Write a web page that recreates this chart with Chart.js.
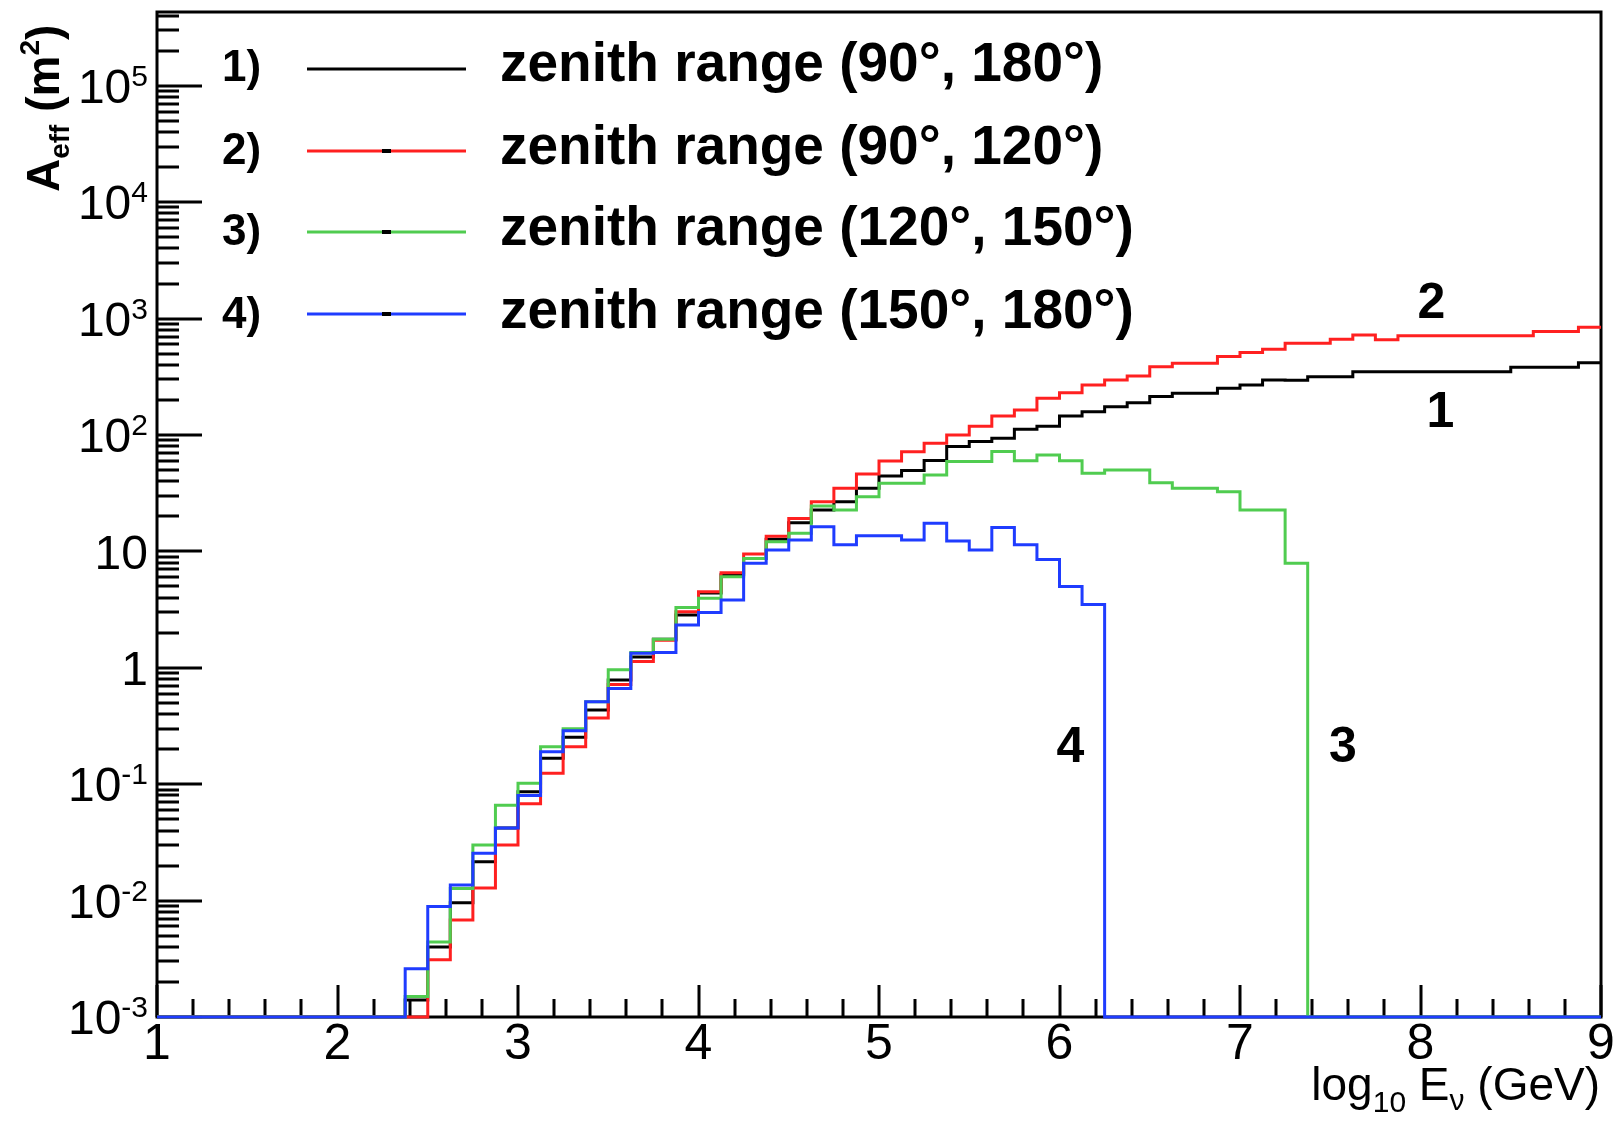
<!DOCTYPE html>
<html>
<head>
<meta charset="utf-8">
<script src="https://cdn.jsdelivr.net/npm/chart.js@4.4.1/dist/chart.umd.min.js"></script>
<style>
  html, body { margin: 0; padding: 0; background: #fff; }
</style>
</head>
<body>
<canvas id="aeff" width="1623" height="1126"></canvas>
<script>
// Histogram binning: 64 bins in log10(E/GeV) from 1 to 9
const X_MIN = 1, X_MAX = 9, N_BINS = 64;
const Y_MIN = 1e-3, Y_MAX = 4.3e5;
const binEdges = Array.from({ length: N_BINS + 1 }, (_, i) => X_MIN + i * (X_MAX - X_MIN) / N_BINS);

// Effective area (m^2) per bin; 0 = empty bin
const aeff90to180 = [
  0, 0, 0, 0, 0, 0, 0, 0, 0, 0, 0,
  0.0014, 0.0040, 0.0096, 0.0216, 0.042, 0.086, 0.167, 0.253, 0.434, 0.785,
  1.24, 1.76, 2.84, 4.4, 6.3, 8.7, 12.7, 17.6, 22.7, 26.7,
  34.8, 44.4, 49.4, 60.2, 79.4, 87.7, 93.6, 112, 118.6, 145.5,
  158, 175, 189, 214, 228, 228, 252, 269, 297, 295,
  317, 317, 350, 350, 350, 350, 350, 350, 350, 382,
  382, 382, 418
];
const aeff90to120 = [
  0, 0, 0, 0, 0, 0, 0, 0, 0, 0, 0,
  0, 0.0031, 0.0068, 0.0128, 0.030, 0.068, 0.124, 0.21, 0.37, 0.72,
  1.13, 1.72, 3.03, 4.5, 6.56, 9.5, 13.5, 19.2, 26.7, 34.8,
  46.2, 59.8, 71.9, 84.8, 100, 119, 145.5, 164, 207, 231,
  269, 297, 321, 386, 413, 413, 471, 510, 545, 614,
  614, 664, 723, 656, 710, 710, 710, 710, 710, 710,
  773, 773, 843
];
const aeff120to150 = [
  0, 0, 0, 0, 0, 0, 0, 0, 0, 0, 0,
  0.0015, 0.0044, 0.0127, 0.030, 0.066, 0.102, 0.21, 0.30, 0.51, 0.96,
  1.35, 1.76, 3.3, 3.95, 6.06, 8.7, 12.1, 14.3, 24.5, 22.7,
  29.5, 38.4, 38.4, 45.3, 59.1, 59.1, 72, 60, 67.4, 60,
  46.9, 50, 50, 38.9, 34.8, 34.8, 32.6, 22.7, 22.7, 7.9,
  0, 0, 0, 0, 0, 0, 0, 0, 0, 0,
  0, 0, 0
];
const aeff150to180 = [
  0, 0, 0, 0, 0, 0, 0, 0, 0, 0, 0,
  0.0026, 0.0089, 0.0136, 0.0255, 0.042, 0.080, 0.19, 0.288, 0.51, 0.665,
  1.33, 1.35, 2.33, 2.98, 3.82, 7.9, 10.3, 12.5, 16.3, 11.4,
  13.6, 13.6, 12.5, 17.4, 12.3, 10.3, 16, 11.4, 8.5, 5.0,
  3.5, 0, 0, 0, 0, 0, 0, 0, 0, 0,
  0, 0, 0, 0, 0, 0, 0, 0, 0, 0,
  0, 0, 0
];

const seriesLabels = [
  'zenith range (90°, 180°)',
  'zenith range (90°, 120°)',
  'zenith range (120°, 150°)',
  'zenith range (150°, 180°)'
];
const legendTags = ['1)', '2)', '3)', '4)'];
const seriesColors = ['#000000', '#ff2020', '#50cc50', '#1f3cff'];
const seriesValues = [aeff90to180, aeff90to120, aeff120to150, aeff150to180];
const xTickValues = [1, 2, 3, 4, 5, 6, 7, 8, 9];
const yDecades = [-3, -2, -1, 0, 1, 2, 3, 4, 5];

// curve tags: [text, log10 E, A_eff]
const curveTags = [['2', 8.06, 1330], ['1', 8.11, 155], ['4', 6.06, 0.205], ['3', 7.57, 0.205]];

const FONT = '"Liberation Sans", Arial, Helvetica, sans-serif';

// empty bins sit on the axis floor, as ROOT draws them on a log axis
function histPoints(values) {
  const pts = values.map((v, i) => ({ x: binEdges[i], y: v > 0 ? v : Y_MIN }));
  pts.push({ x: X_MAX, y: pts[pts.length - 1].y });
  return pts;
}

function drawRuns(ctx, runs, x, y) {
  for (const r of runs) {
    ctx.font = r.font;
    ctx.fillText(r.text, x, y + (r.dy || 0));
    x += ctx.measureText(r.text).width;
  }
  return x;
}
function runsWidth(ctx, runs) {
  let w = 0;
  for (const r of runs) { ctx.font = r.font; w += ctx.measureText(r.text).width; }
  return w;
}

const rootAxes = {
  id: 'rootAxes',
  beforeDatasetsDraw(chart) {
    const { ctx, chartArea: a, scales: { x, y } } = chart;
    ctx.save();
    ctx.strokeStyle = '#000';
    ctx.lineWidth = 3;
    ctx.strokeRect(a.left, a.top, a.right - a.left, a.bottom - a.top);

    // x ticks, inside the frame
    ctx.beginPath();
    for (let v = X_MIN; v <= X_MAX + 1e-9; v += 0.2) {
      const px = Math.round(x.getPixelForValue(v));
      const major = Math.abs(v - Math.round(v)) < 1e-6;
      ctx.moveTo(px, a.bottom);
      ctx.lineTo(px, a.bottom - (major ? 32 : 18));
    }
    // y ticks (log), inside the frame
    for (const n of yDecades) {
      for (let k = 1; k <= 9; k++) {
        const v = k * Math.pow(10, n);
        if (v > Y_MAX) break;
        const py = Math.round(y.getPixelForValue(v));
        ctx.moveTo(a.left, py);
        ctx.lineTo(a.left + (k === 1 ? 45 : 22), py);
      }
    }
    ctx.stroke();
    ctx.restore();
  },
  afterDraw(chart) {
    const { ctx, chartArea: a, scales: { x, y } } = chart;
    ctx.save();
    ctx.fillStyle = '#000';

    // y tick labels with exponents
    ctx.textBaseline = 'middle';
    ctx.textAlign = 'right';
    for (const n of yDecades) {
      const py = y.getPixelForValue(Math.pow(10, n));
      const xr = 148;
      if (n === 0 || n === 1) {
        ctx.font = '48px ' + FONT;
        ctx.fillText(n === 0 ? '1' : '10', xr, py + 4);
      } else {
        ctx.font = '30px ' + FONT;
        const sup = String(n);
        const sw = ctx.measureText(sup).width;
        ctx.fillText(sup, xr, py - 8);
        ctx.font = '48px ' + FONT;
        ctx.fillText('10', xr - sw, py + 4);
      }
    }

    // x axis title, right aligned
    ctx.textAlign = 'left';
    ctx.textBaseline = 'alphabetic';
    const xt = [
      { text: 'log', font: '46px ' + FONT },
      { text: '10', font: '30px ' + FONT, dy: 12 },
      { text: ' E', font: '46px ' + FONT },
      { text: 'ν', font: '30px ' + FONT, dy: 10 },
      { text: ' (GeV)', font: '46px ' + FONT }
    ];
    drawRuns(ctx, xt, 1600 - runsWidth(ctx, xt), 1100);

    // y axis title, rotated
    const yt = [
      { text: 'A', font: 'bold 46px ' + FONT },
      { text: 'eff', font: 'bold 28px ' + FONT, dy: 10 },
      { text: ' (m', font: 'bold 46px ' + FONT },
      { text: '2', font: 'bold 28px ' + FONT, dy: -20 },
      { text: ')', font: 'bold 46px ' + FONT }
    ];
    ctx.save();
    ctx.translate(59, 192);
    ctx.rotate(-Math.PI / 2);
    drawRuns(ctx, yt, 0, 0);
    ctx.restore();

    // legend
    const rowsBase = [81, 164, 245, 328];
    const rowsLine = [69, 151, 232, 314];
    seriesLabels.forEach((lab, i) => {
      ctx.font = 'bold 44px ' + FONT;
      ctx.fillStyle = '#000';
      ctx.fillText(legendTags[i], 222, rowsBase[i]);
      ctx.strokeStyle = seriesColors[i];
      ctx.lineWidth = 3;
      ctx.beginPath();
      ctx.moveTo(307, rowsLine[i]);
      ctx.lineTo(466, rowsLine[i]);
      ctx.stroke();
      if (i > 0) ctx.fillRect(382, rowsLine[i] - 2, 9, 4);
      ctx.font = 'bold 55px ' + FONT;
      ctx.fillText(lab, 500, rowsBase[i]);
    });

    // curve tags
    ctx.font = 'bold 50px ' + FONT;
    ctx.textAlign = 'center';
    ctx.textBaseline = 'middle';
    for (const [t, ex, ev] of curveTags) {
      ctx.fillText(t, x.getPixelForValue(ex), y.getPixelForValue(ev));
    }
    ctx.restore();
  }
};

const config = {
  type: 'line',
  data: {
    datasets: seriesValues.map((vals, i) => ({
      label: seriesLabels[i],
      data: histPoints(vals),
      borderColor: seriesColors[i],
      borderWidth: 3,
      pointRadius: 0,
      stepped: true,
      fill: false,
      clip: 4,
      order: 4 - i,
      borderJoinStyle: 'miter'
    }))
  },
  options: {
    responsive: false,
    animation: false,
    events: [],
    layout: { padding: { top: 12, right: 22, left: 0, bottom: 0 } },
    plugins: { legend: { display: false }, tooltip: { enabled: false } },
    scales: {
      x: {
        type: 'linear',
        min: X_MIN,
        max: X_MAX,
        grid: { display: false },
        border: { display: false },
        afterBuildTicks(s) { s.ticks = xTickValues.map(v => ({ value: v })); },
        ticks: {
          color: '#000',
          font: { family: FONT, size: 50 },
          padding: -10,
          maxRotation: 0,
          autoSkip: false,
          callback: v => String(v)
        },
        afterFit(s) { s.height = 109; }
      },
      y: {
        type: 'logarithmic',
        min: Y_MIN,
        max: Y_MAX,
        grid: { display: false },
        border: { display: false },
        ticks: { display: false },
        afterFit(s) { s.width = 157; }
      }
    }
  },
  plugins: [rootAxes]
};

window.addEventListener('DOMContentLoaded', () => {
  new Chart(document.getElementById('aeff').getContext('2d'), config);
});
</script>
</body>
</html>
